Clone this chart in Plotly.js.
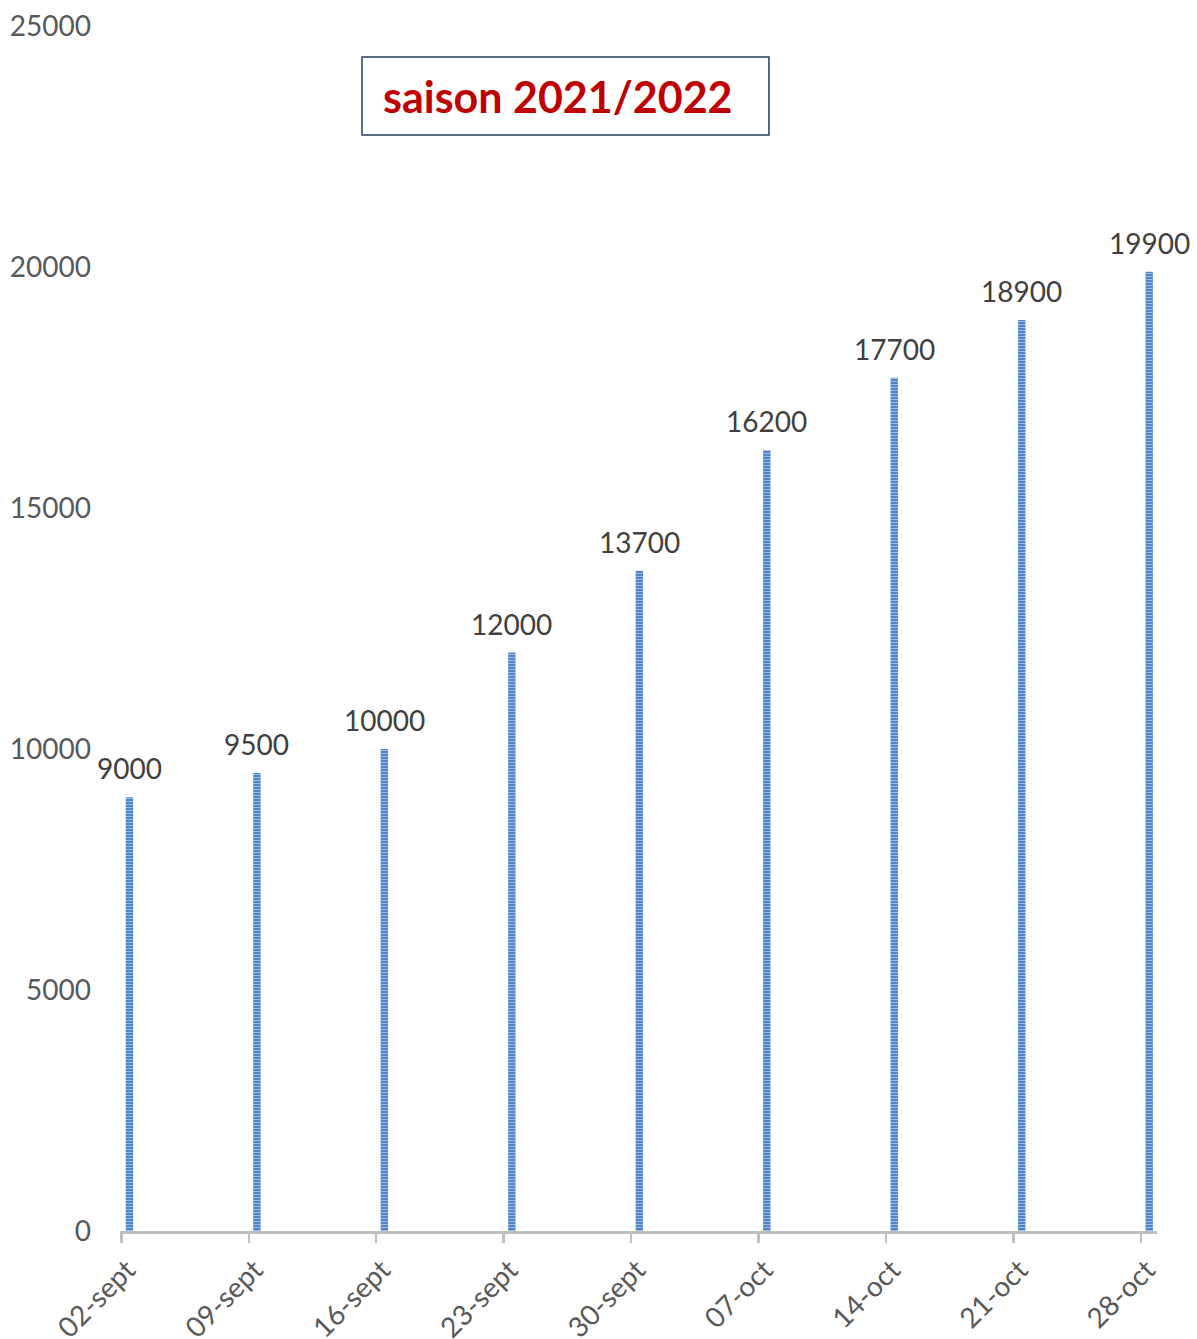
<!DOCTYPE html>
<html>
<head>
<meta charset="utf-8">
<script src="https://cdn.plot.ly/plotly-3.0.1.min.js"></script>
<style>html,body{margin:0;padding:0;background:#fff;}#chart{width:1197px;height:1339px;}</style>
</head>
<body>
<div id="chart"></div>
<script>
const categories = ["02-sept","09-sept","16-sept","23-sept","30-sept","07-oct","14-oct","21-oct","28-oct"];
const values = [9000, 9500, 10000, 12000, 13700, 16200, 17700, 18900, 19900];
const yTicks = [0, 5000, 10000, 15000, 20000, 25000];
const chartTitle = "saison 2021/2022";

const FONT = "Lato, 'Open Sans', sans-serif";
const BAR_W = 0.058, BAR_OFF = 0.035;

const trace = {
  type: "bar",
  x: categories,
  y: values,
  width: BAR_W,
  offset: BAR_OFF,
  marker: {
    color: "#5287cc",
    line: {width: 0},
    pattern: {shape: "-", fgcolor: "#a5c3ea", bgcolor: "#4f84c8", size: 3, solidity: 0.3}
  },
  hoverinfo: "none"
};

// data labels placed from the data values
const labelAnnotations = categories.map((c, i) => ({
  xref: "x", yref: "y",
  x: i + BAR_OFF + BAR_W / 2,
  y: values[i],
  xanchor: "center", yanchor: "bottom",
  yshift: 10,
  showarrow: false,
  text: String(values[i]),
  font: {family: FONT, size: 28, color: "#404040"}
}));

const layout = {
  width: 1197,
  height: 1339,
  margin: {l: 120, r: 40, t: 26, b: 108},
  paper_bgcolor: "#ffffff",
  plot_bgcolor: "#ffffff",
  showlegend: false,
  font: {family: FONT},
  xaxis: {
    type: "category",
    range: [-0.01, 8.125],
    showgrid: false,
    zeroline: false,
    showline: true,
    linecolor: "#bfbfbf",
    linewidth: 2.5,
    ticks: "outside",
    ticklen: 9,
    tickwidth: 2.5,
    tickcolor: "#bfbfbf",
    tickangle: -45,
    ticklabelshift: 6,
    tickfont: {family: FONT, size: 28, color: "#595959"},
    fixedrange: true
  },
  yaxis: {
    range: [0, 25000],
    tickvals: yTicks,
    ticktext: yTicks.map(String),
    showgrid: false,
    zeroline: false,
    showline: false,
    ticks: "",
    ticklabelstandoff: 28,
    tickfont: {family: FONT, size: 28, color: "#595959"},
    fixedrange: true
  },
  shapes: [{
    type: "rect",
    xref: "paper", yref: "paper",
    x0: 0.2334, x1: 0.6258, y0: 0.9095, y1: 0.9743,
    line: {color: "#243f60", width: 1.5},
    fillcolor: "rgba(0,0,0,0)"
  }],
  annotations: [{
    xref: "paper", yref: "paper",
    x: 0.2516, y: 0.9419,
    xanchor: "left", yanchor: "middle",
    showarrow: false,
    text: "<b>" + chartTitle + "</b>",
    font: {family: FONT, size: 43, color: "#c00000"}
  }].concat(labelAnnotations)
};

Plotly.newPlot("chart", [trace], layout, {displayModeBar: false, staticPlot: true});
</script>
</body>
</html>
